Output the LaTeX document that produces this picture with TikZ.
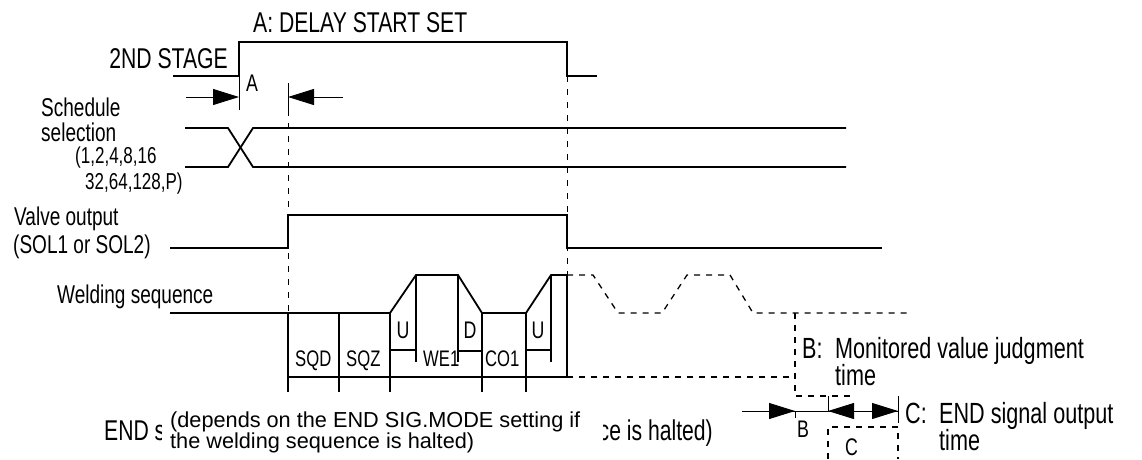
\documentclass[tikz,border=0pt]{standalone}
\usepackage{fontspec}
\setmainfont{Liberation Sans}
\newfontfamily\narfont{Liberation Sans}[FakeStretch=0.74]
\usetikzlibrary{arrows.meta}
\newcommand\fTop{\narfont\fontsize{28.6}{31}\selectfont}
\newcommand\fRight{\narfont\fontsize{29.2}{32}\selectfont}
\newcommand\fLeft{\narfont\fontsize{25.7}{28}\selectfont}
\newcommand\fNum{\narfont\fontsize{23}{26}\selectfont}
\newcommand\fSeg{\narfont\fontsize{22.5}{25}\selectfont}
\newcommand\fLet{\narfont\fontsize{24}{26}\selectfont}
\newcommand\fNote{\fontsize{21.7}{24}\selectfont}
\begin{document}
\begin{tikzpicture}[x=1pt,y=-1pt,
  sig/.style={line width=1.8pt, line join=miter},
  dimln/.style={line width=0.9pt},
  vdash/.style={line width=1pt, dash pattern=on 6pt off 7pt},
  wdash/.style={line width=1.3pt, dash pattern=on 6pt off 6pt},
  tip/.style={-{Triangle[length=26pt,width=16pt]}},
  lbl/.style={inner sep=0pt, anchor=base west},
  lble/.style={inner sep=0pt, anchor=base east},
  lblc/.style={inner sep=0pt, anchor=base},
]
\useasboundingbox (0,0) rectangle (1142,459);

% ---- 2ND STAGE ----
\draw[sig] (173,76) -- (239,76) -- (239,42) -- (567,42) -- (567,76) -- (597,76);
\node[lbl, font=\fTop] (delay) at (253,32) {A: DELAY START SET};
\node[lble, font=\fTop] (stage) at (228,68) {2ND STAGE};
\node[lbl, font=\fLet] (alab) at (246,91) {A};

% A dimension
\coordinate (a1) at (239,97);
\coordinate (a2) at (288,97);
\coordinate (a0) at (186,97);
\coordinate (a3) at (343,97);
\draw[dimln] (239,76) -- (239,110);
\draw[dimln] (288,83) -- (288,110);
\draw[dimln, tip] (a0) -- (a1);
\draw[dimln, tip] (a3) -- (a2);
\draw[vdash] (288,110) -- (288,313);
\draw[vdash] (567,76) -- (567,275);

% ---- Schedule selection ----
\draw[sig] (185,128) -- (228,128) -- (253,167) -- (846,167);
\draw[sig] (185,167) -- (228,167) -- (253,128) -- (846,128);
\node[lbl, font=\fLeft] (sch1) at (41,116) {Schedule};
\node[lbl, font=\fLeft] (sch2) at (41,141) {selection};
\node[lbl, font=\fNum] (sch3) at (75,163) {(1,2,4,8,16};
\node[lbl, font=\fNum] (sch4) at (85,189) {32,64,128,P)};

% ---- Valve output ----
\draw[sig] (170,248) -- (288,248) -- (288,215) -- (567,215) -- (567,248) -- (882,248);
\node[lbl, font=\fLeft] (val1) at (14,225) {Valve output};
\node[lbl, font=\fLeft] (val2) at (13,253) {(SOL1 or SOL2)};

% ---- Welding sequence ----
\node[lbl, font=\fLeft] (weld) at (57,303) {Welding sequence};
\draw[sig] (170,313) -- (390,313) -- (416,275) -- (458,275) -- (482,313) -- (526,313) -- (551,275) -- (567,275) -- (567,377);
\foreach \x in {288,339,390,482,526} \draw[sig] (\x,313) -- (\x,392);
\foreach \x in {416,458,551} \draw[sig] (\x,275) -- (\x,362);
\draw[sig] (288,377) -- (567,377);
\draw[line width=1.4pt] (390,350) -- (416,350);
\draw[line width=2.2pt] (458,351) -- (482,351);
\draw[line width=1.4pt] (526,350) -- (551,350);
\node[lbl, font=\fSeg] (sqd) at (295,366) {SQD};
\node[lbl, font=\fSeg] (sqz) at (346,366) {SQZ};
\node[lbl, font=\fSeg] (we1) at (423,366) {WE1};
\node[lbl, font=\fSeg] (co1) at (485,366) {CO1};
\node[lblc, font=\fLet] (u1) at (403,338) {U};
\node[lblc, font=\fLet] (d1) at (470,338) {D};
\node[lblc, font=\fLet] (u2) at (538,338) {U};

% dashed continuation
\draw[wdash] (567,275) -- (593,275) -- (618,313) -- (662,313) -- (687,275) -- (730,275) -- (753,313) -- (907,313);
\draw[wdash] (567,377) -- (795,377);
\draw[wdash] (795,313) -- (795,396) -- (852,396);
\draw[wdash] (828,459) -- (828,427) -- (898,427) -- (898,459);

% B / C dimensions
\coordinate (b0) at (742,411);
\coordinate (b1) at (795,411);
\coordinate (c1) at (828,411);
\coordinate (cm) at (863,411);
\coordinate (c2) at (898,411);
\draw[dimln] (b0) -- (c2);
\draw[dimln, tip] (b0) -- (b1);
\draw[dimln, tip] (cm) -- (c1);
\draw[dimln, tip] (cm) -- (c2);
\draw[dimln] (795,411) -- (795,418);
\draw[dimln] (828,396) -- (828,411);
\draw[dimln] (898,396) -- (898,423);
\node[lbl, font=\fLet] (blab) at (797,437) {B};
\node[lbl, font=\fLet] (clab) at (845,455) {C};

\node[lbl, font=\fRight] (bdesc0) at (802,358) {B:};
\node[lbl, font=\fRight] (bdesc1) at (835,358) {Monitored value judgment};
\node[lbl, font=\fRight] (bdesc2) at (835,385) {time};
\node[lbl, font=\fRight] (cdesc0) at (905,423) {C:};
\node[lbl, font=\fRight] (cdesc1) at (939,423) {END signal output};
\node[lbl, font=\fRight] (cdesc2) at (939,450) {time};

% END signal label, partly covered by the note
\node[lbl, font=\fTop] (endl) at (104,440) {END sig};
\node[lble, font=\fTop] (endr) at (713,440) {nce is halted)};
\fill[white] (162,400) rectangle (603,459);
\node[lbl, font=\fNote] (note1) at (170,427) {(depends on the END SIG.MODE setting if};
\node[lbl, font=\fNote] (note2) at (170,448) {the welding sequence is halted)};
\end{tikzpicture}
\end{document}
